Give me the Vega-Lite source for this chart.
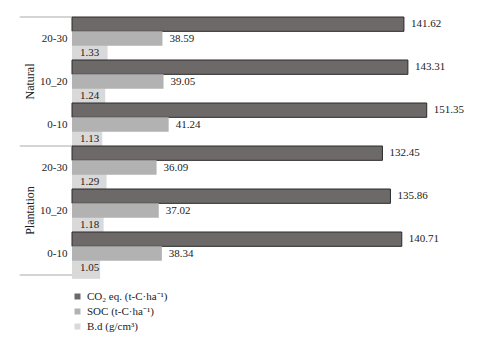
{
  "$schema": "https://vega.github.io/schema/vega-lite/v6.json",
  "width": 375,
  "height": 258,
  "autosize": {"type": "none"},
  "padding": {"left": 72, "top": 17, "right": 53, "bottom": 78},
  "background": "white",
  "config": {
    "font": "Liberation Serif",
    "view": {"stroke": null}
  },
  "datasets": {
    "bars": [
      {"group": "Natural", "depth": "20-30", "key": "Natural|20-30", "var": "CO₂ eq. (t-C·ha⁻¹)", "value": 141.62, "label": "141.62"},
      {"group": "Natural", "depth": "20-30", "key": "Natural|20-30", "var": "SOC (t-C·ha⁻¹)", "value": 38.59, "label": "38.59"},
      {"group": "Natural", "depth": "20-30", "key": "Natural|20-30", "var": "B.d (g/cm³)", "value": 1.33, "label": "1.33"},
      {"group": "Natural", "depth": "10_20", "key": "Natural|10_20", "var": "CO₂ eq. (t-C·ha⁻¹)", "value": 143.31, "label": "143.31"},
      {"group": "Natural", "depth": "10_20", "key": "Natural|10_20", "var": "SOC (t-C·ha⁻¹)", "value": 39.05, "label": "39.05"},
      {"group": "Natural", "depth": "10_20", "key": "Natural|10_20", "var": "B.d (g/cm³)", "value": 1.24, "label": "1.24"},
      {"group": "Natural", "depth": "0-10", "key": "Natural|0-10", "var": "CO₂ eq. (t-C·ha⁻¹)", "value": 151.35, "label": "151.35"},
      {"group": "Natural", "depth": "0-10", "key": "Natural|0-10", "var": "SOC (t-C·ha⁻¹)", "value": 41.24, "label": "41.24"},
      {"group": "Natural", "depth": "0-10", "key": "Natural|0-10", "var": "B.d (g/cm³)", "value": 1.13, "label": "1.13"},
      {"group": "Plantation", "depth": "20-30", "key": "Plantation|20-30", "var": "CO₂ eq. (t-C·ha⁻¹)", "value": 132.45, "label": "132.45"},
      {"group": "Plantation", "depth": "20-30", "key": "Plantation|20-30", "var": "SOC (t-C·ha⁻¹)", "value": 36.09, "label": "36.09"},
      {"group": "Plantation", "depth": "20-30", "key": "Plantation|20-30", "var": "B.d (g/cm³)", "value": 1.29, "label": "1.29"},
      {"group": "Plantation", "depth": "10_20", "key": "Plantation|10_20", "var": "CO₂ eq. (t-C·ha⁻¹)", "value": 135.86, "label": "135.86"},
      {"group": "Plantation", "depth": "10_20", "key": "Plantation|10_20", "var": "SOC (t-C·ha⁻¹)", "value": 37.02, "label": "37.02"},
      {"group": "Plantation", "depth": "10_20", "key": "Plantation|10_20", "var": "B.d (g/cm³)", "value": 1.18, "label": "1.18"},
      {"group": "Plantation", "depth": "0-10", "key": "Plantation|0-10", "var": "CO₂ eq. (t-C·ha⁻¹)", "value": 140.71, "label": "140.71"},
      {"group": "Plantation", "depth": "0-10", "key": "Plantation|0-10", "var": "SOC (t-C·ha⁻¹)", "value": 38.34, "label": "38.34"},
      {"group": "Plantation", "depth": "0-10", "key": "Plantation|0-10", "var": "B.d (g/cm³)", "value": 1.05, "label": "1.05"}
    ],
    "groups": [
      {"group": "Natural", "key": "Natural|10_20"},
      {"group": "Plantation", "key": "Plantation|10_20"}
    ],
    "topLines": [
      {"key": "Natural|20-30"},
      {"key": "Plantation|20-30"}
    ],
    "bottomLines": [
      {"key": "Plantation|0-10"}
    ]
  },
  "encoding": {
    "y": {
      "field": "key",
      "type": "nominal",
      "scale": {
        "domain": ["Natural|20-30", "Natural|10_20", "Natural|0-10", "Plantation|20-30", "Plantation|10_20", "Plantation|0-10"],
        "paddingInner": 0,
        "paddingOuter": 0
      },
      "axis": {
        "title": null,
        "ticks": false,
        "labelExpr": "split(datum.value, '|')[1]",
        "labelFont": "Liberation Serif",
        "labelFontSize": 11,
        "labelColor": "#222",
        "labelPadding": 5,
        "domainColor": "#aaaaaa",
        "grid": false
      }
    }
  },
  "resolve": {"scale": {"x": "independent"}},
  "layer": [
    {
      "data": {"name": "bars"},
      "transform": [{"filter": "datum.var === 'B.d (g/cm³)'"}],
      "mark": {"type": "bar", "size": 22},
      "encoding": {
        "x": {"field": "value", "type": "quantitative", "scale": {"domain": [0, 14]}, "axis": null},
        "yOffset": {"field": "var", "type": "nominal", "scale": {"domain": ["CO₂ eq. (t-C·ha⁻¹)", "SOC (t-C·ha⁻¹)", "B.d (g/cm³)"], "paddingInner": 0, "paddingOuter": 0}},
        "color": {
          "field": "var",
          "type": "nominal",
          "scale": {"domain": ["CO₂ eq. (t-C·ha⁻¹)", "SOC (t-C·ha⁻¹)", "B.d (g/cm³)"], "range": ["#6d6969", "#b2b2b2", "#d9d9d9"]},
          "legend": {
            "title": null,
            "orient": "bottom",
            "direction": "vertical",
            "offset": 16,
            "symbolType": "square",
            "symbolSize": 36,
            "symbolStrokeWidth": 0,
            "labelFont": "Liberation Serif",
            "labelFontSize": 11,
            "labelColor": "#222",
            "rowPadding": 3,
            "labelOffset": 4
          }
        }
      }
    },
    {
      "layer": [
        {
          "data": {"name": "bars"},
          "transform": [{"filter": "datum.var !== 'B.d (g/cm³)'"}],
          "mark": {"type": "bar"},
          "encoding": {
            "x": {"field": "value", "type": "quantitative", "scale": {"domain": [0, 152]}, "axis": null},
            "yOffset": {"field": "var", "type": "nominal"},
            "color": {"field": "var", "type": "nominal"},
            "stroke": {"condition": {"test": "datum.var === 'CO₂ eq. (t-C·ha⁻¹)'", "value": "#2a2a2a"}, "value": null},
            "strokeWidth": {"value": 1}
          }
        },
        {
          "data": {"name": "bars"},
          "transform": [{"filter": "datum.var !== 'B.d (g/cm³)'"}],
          "mark": {"type": "text", "align": "left", "baseline": "middle", "dx": 7, "font": "Liberation Serif", "fontSize": 11, "color": "#222"},
          "encoding": {
            "x": {"field": "value", "type": "quantitative"},
            "yOffset": {"field": "var", "type": "nominal"},
            "text": {"field": "label"}
          }
        },
        {
          "data": {"name": "bars"},
          "transform": [{"filter": "datum.var === 'B.d (g/cm³)'"}],
          "mark": {"type": "text", "align": "left", "baseline": "middle", "dx": 8, "font": "Liberation Serif", "fontSize": 11, "color": "#222"},
          "encoding": {
            "x": {"datum": 0, "type": "quantitative"},
            "yOffset": {"field": "var", "type": "nominal"},
            "text": {"field": "label"}
          }
        },
        {
          "data": {"name": "groups"},
          "mark": {"type": "text", "align": "center", "baseline": "middle", "angle": 270, "font": "Liberation Serif", "fontSize": 12, "color": "#222"},
          "encoding": {
            "x": {"datum": -18, "type": "quantitative"},
            "text": {"field": "group"}
          }
        },
        {
          "data": {"name": "topLines"},
          "mark": {"type": "rule", "color": "#aaaaaa", "strokeWidth": 1},
          "encoding": {
            "x": {"datum": -22.3, "type": "quantitative"},
            "x2": {"datum": 0},
            "y": {"field": "key", "type": "nominal", "bandPosition": 0}
          }
        },
        {
          "data": {"name": "bottomLines"},
          "mark": {"type": "rule", "color": "#aaaaaa", "strokeWidth": 1},
          "encoding": {
            "x": {"datum": -22.3, "type": "quantitative"},
            "x2": {"datum": 0},
            "y": {"field": "key", "type": "nominal", "bandPosition": 1}
          }
        }
      ]
    }
  ]
}
